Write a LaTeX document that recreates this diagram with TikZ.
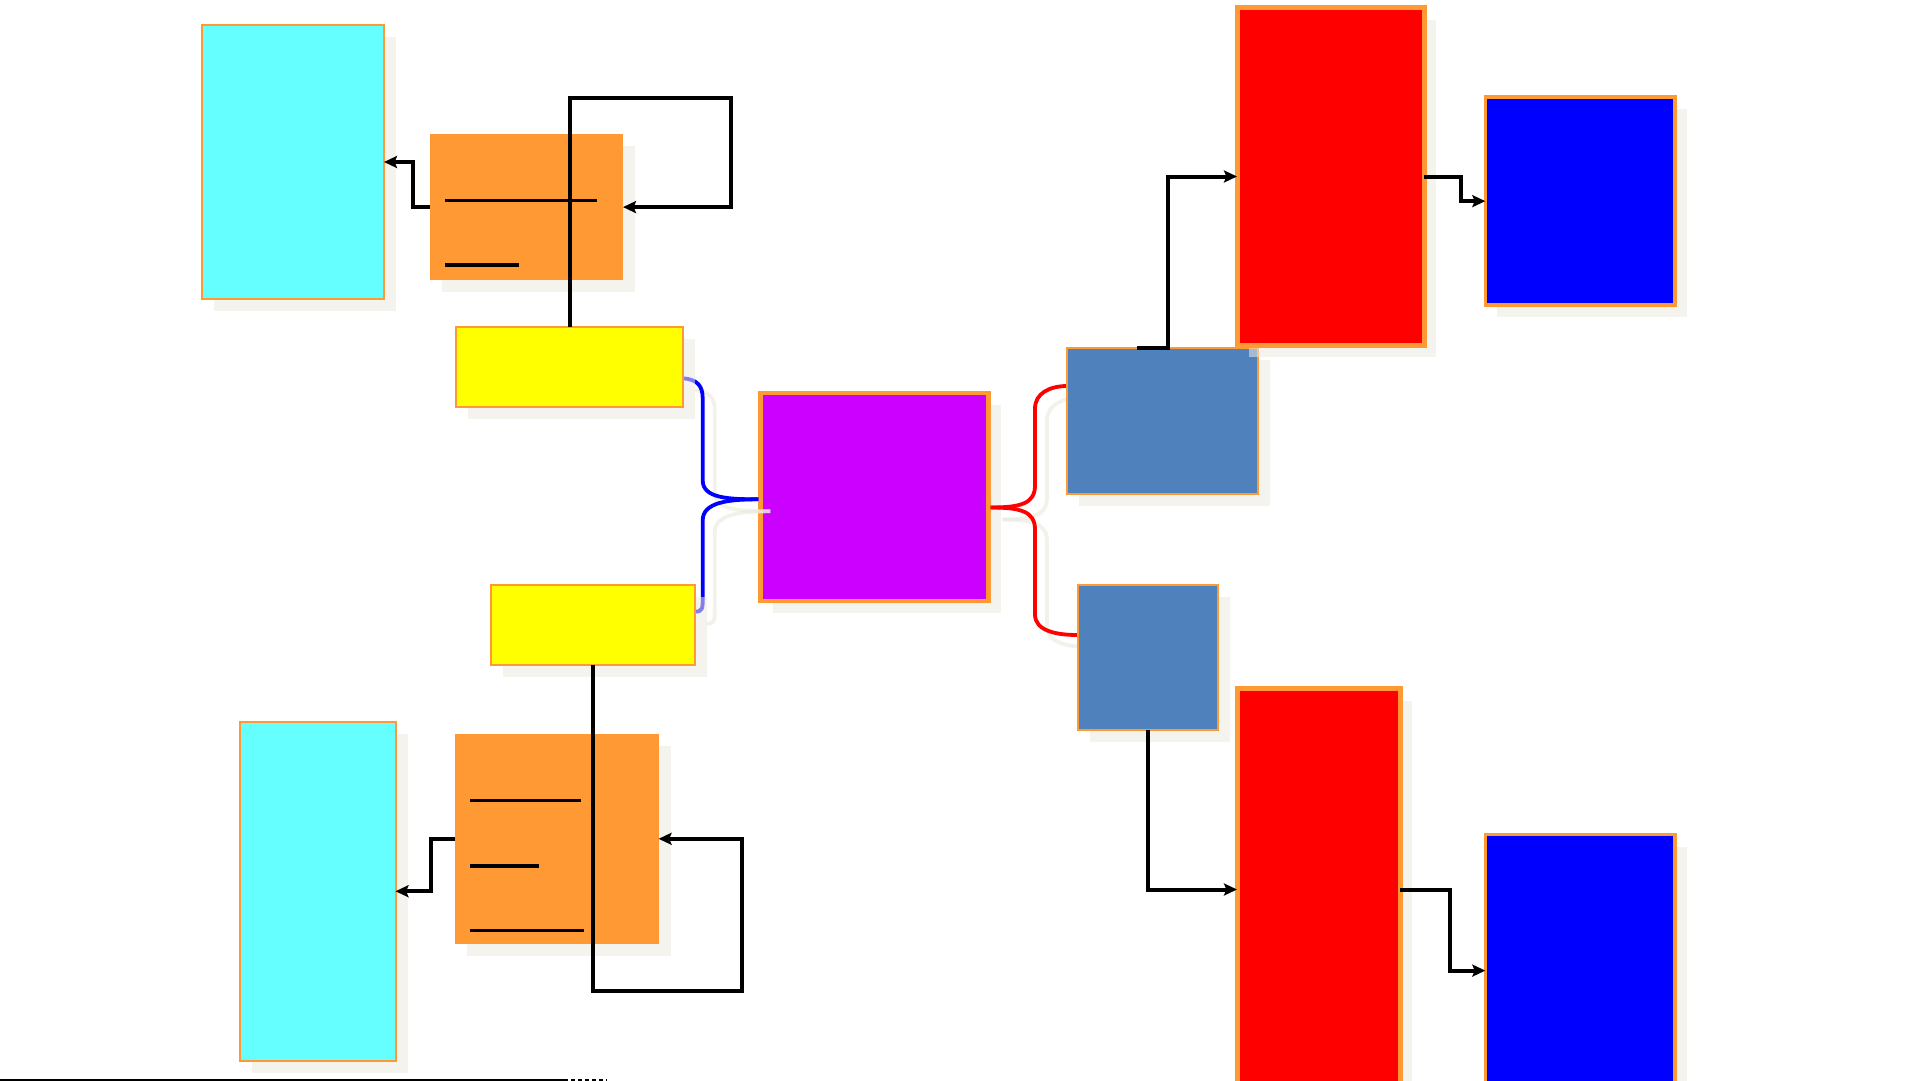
\documentclass[tikz,border=0pt]{standalone}
\usetikzlibrary{arrows.meta}
\definecolor{shadowc}{RGB}{235,233,222}
\definecolor{bord}{RGB}{255,153,51}
\definecolor{cyanf}{RGB}{102,255,255}
\definecolor{orangef}{RGB}{255,153,51}
\definecolor{yellowf}{RGB}{255,255,0}
\definecolor{purplef}{RGB}{204,0,255}
\definecolor{redf}{RGB}{255,0,0}
\definecolor{bluef}{RGB}{0,0,255}
\definecolor{steelf}{RGB}{79,129,189}
\newcommand\pbox[6]{%
  \fill[shadowc, fill opacity=.55] ({#3+12},{#4+12}) rectangle ++(#5,#6);
  \node[#2, anchor=north west, inner sep=0pt, outer sep=0pt,
        minimum width={#5*0.5pt}, minimum height={#6*0.5pt}] (#1) at (#3,#4) {};}
\tikzset{
  cbox/.style={fill=cyanf, draw=bord, line width=1pt},
  obox/.style={fill=orangef},
  ybox/.style={fill=yellowf, draw=bord, line width=1pt},
  pbx/.style={fill=purplef, draw=bord, line width=2.25pt},
  rbox/.style={fill=redf, draw=bord, line width=2.5pt},
  bbox/.style={fill=bluef, draw=bord, line width=1.8pt},
  sbox/.style={fill=steelf, draw=bord, line width=1pt},
  conn/.style={draw=black, line width=2pt, -{Stealth[length=6.5pt,width=6pt,inset=1.2pt]}},
  bar/.style={draw=black, line width=1.7pt},
  bluec/.style={draw=bluef, line width=1.9pt},
  redc/.style={draw=redf, line width=1.9pt},
  shadc/.style={draw=shadowc, line width=1.9pt, draw opacity=.65},
}
\begin{document}
\begin{tikzpicture}[x=0.5pt,y=-0.5pt]
\useasboundingbox (0,0) rectangle (1916,1081);
\clip (0,0) rectangle (1916,1081);
% left/top boxes
\pbox{cyan1}{cbox}{202}{25}{182}{274}
\pbox{orange1}{obox}{430}{134.4}{193}{145.4}
\pbox{purple}{pbx}{760.5}{393}{228}{208}
% curve end points
\coordinate (y1e) at (682.7,378.3);
\coordinate (y2e) at (694.7,611.7);
\coordinate (pw) at (758.3,499.3);
\coordinate (pe) at (990.7,507.5);
\coordinate (s1w) at (1067.3,386);
\coordinate (s2w) at (1077.3,635);
% curve shadows
\draw[shadc] ([shift={(12,12)}]y1e) .. controls +(15,1) and +(0,-12) .. ++(20,20) -- ++(0,82) .. controls +(0,18) and +(-30,0) .. ([shift={(12,12)}]pw);
\draw[shadc] ([shift={(12,12)}]pw) .. controls +(-30,0) and +(0,-18) .. ++(-55.6,21) -- ++(0,78) .. controls +(0,10) and +(8,0) .. ([shift={(12,12)}]y2e);
\draw[shadc] ([shift={(12,12)}]pe) .. controls +(30,0) and +(0,18) .. ++(44.3,-22) -- ++(0,-77) .. controls +(0,-15) and +(-18,0) .. ([shift={(12,12)}]s1w);
\draw[shadc] ([shift={(12,12)}]pe) .. controls +(30,0) and +(0,-18) .. ++(44.3,22) -- ++(0,85) .. controls +(0,16) and +(-22,0) .. ([shift={(12,12)}]s2w);
% curves
\draw[bluec] (y1e) .. controls +(15,1) and +(0,-12) .. ++(20,20) -- ++(0,82) .. controls +(0,18) and +(-30,0) .. (pw);
\draw[bluec] (pw) .. controls +(-30,0) and +(0,-18) .. ++(-55.6,21) -- ++(0,78) .. controls +(0,10) and +(8,0) .. (y2e);
\draw[redc] (pe) .. controls +(30,0) and +(0,18) .. ++(44.3,-22) -- ++(0,-77) .. controls +(0,-15) and +(-18,0) .. (s1w);
\draw[redc] (pe) .. controls +(30,0) and +(0,-18) .. ++(44.3,22) -- ++(0,85) .. controls +(0,16) and +(-22,0) .. (s2w);
% remaining boxes
\pbox{yellow1}{ybox}{456}{327}{227}{80}
\pbox{yellow2}{ybox}{490.6}{585.2}{204}{80}
\pbox{cyan2}{cbox}{239.5}{722}{156}{338.5}
\pbox{orange2}{obox}{455.2}{733.6}{203.4}{210.4}
\pbox{steel1}{sbox}{1067.4}{348.3}{191}{145.2}
\pbox{steel2}{sbox}{1077.8}{585}{140.5}{145}
\pbox{red1}{rbox}{1237}{8}{187}{337}
\pbox{blue1}{bbox}{1485.3}{97.2}{189.9}{207.9}
\pbox{red2}{rbox}{1237}{688.5}{163.3}{402}
\pbox{blue2}{bbox}{1485.3}{834.6}{189.9}{272}
% bars inside orange boxes
\coordinate (a1) at (445,200.4); \coordinate (a2) at (597,200.4);
\coordinate (a3) at (445,265); \coordinate (a4) at (519,265);
\draw[bar] (a1) -- (a2);
\draw[bar] (a3) -- (a4);
\coordinate (b1) at (469.8,800.7); \coordinate (b2) at (581,800.7);
\coordinate (b3) at (469.8,865.8); \coordinate (b4) at (538.9,865.8);
\coordinate (b5) at (469.8,930.2); \coordinate (b6) at (584,930.2);
\draw[bar] (b1) -- (b2);
\draw[bar] (b3) -- (b4);
\draw[bar] (b5) -- (b6);
% connectors left
\draw[conn] (orange1.west) -- ++(-17,0) |- (cyan1.east);
\coordinate (l1) at (731.4,98.5);
\draw[conn] (yellow1.north) |- (l1) |- (orange1.east);
\draw[conn] (orange2.west) -- ++(-24,0) |- (cyan2.east);
\coordinate (l2) at (742.4,991.2);
\draw[conn] (yellow2.south) |- (l2) |- (orange2.east);
% connectors right
\coordinate (s1) at (1137,348.3);
\coordinate (s1a) at (1167.5,348.3);
\draw[conn] (s1) -- (s1a) |- (red1.west);
\draw[conn] (red1.east) -- ++(36.5,0) |- (blue1.west);
\draw[conn] (steel2.south) |- (red2.west);
\draw[conn] (red2.east) -- ++(49.5,0) |- (blue2.west);
% bottom edge line
\coordinate (bl0) at (0,1080); \coordinate (bl1) at (564,1080); \coordinate (bl2) at (607,1080);
\draw[line width=0.8pt] (bl0) -- (bl1);
\draw[line width=0.8pt, dash pattern=on 2pt off 1.5pt] (bl1) -- (bl2);
\end{tikzpicture}
\end{document}
